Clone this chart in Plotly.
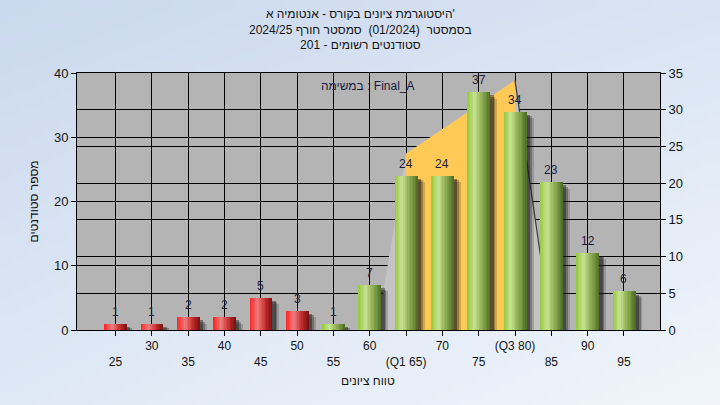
import base64, struct, zlib
import plotly.graph_objects as go

# ---------------- data ----------------
grades = [25, 30, 35, 40, 45, 50, 55, 60, 65, 70, 75, 80, 85, 90, 95]
counts = [1, 1, 2, 2, 5, 3, 1, 7, 24, 24, 37, 34, 23, 12, 6]
tick_labels = ["25", "30", "35", "40", "45", "50", "55", "60", "(Q1 65)", "70",
               "75", "(Q3 80)", "85", "90", "95"]
failing_below = 55          # bars under this grade are red
area_x = [61, 65, 80, 85]   # quartile area outline (right axis units)
area_y = [0, 24, 34, 0]
q1, q3 = 65, 80
q1_val, q3_val = 24, 34

title_lines = ["היסטוגרמת ציונים בקורס - אנטומיה א'",
               "בסמסטר  (01/2024)  סמסטר חורף 2024/25",
               "סטודנטים רשומים - 201"]
task_label = "במשימה : Final_A"
x_title = "טווח ציונים"
y_title = "מספר סטודנטים"

FONT = "Arial, Liberation Sans, sans-serif"
W, H = 720, 405
ML, MR, MT, MB = 77, 60, 73, 75
PW, PH = W - ML - MR, H - MT - MB

# ---------------- helpers ----------------
def hex2rgb(h):
    h = h.lstrip('#')
    return tuple(int(h[i:i + 2], 16) for i in (0, 2, 4))

def interp(stops, t):
    for (t0, c0), (t1, c1) in zip(stops, stops[1:]):
        if t0 <= t <= t1:
            a, b = hex2rgb(c0), hex2rgb(c1)
            f = (t - t0) / (t1 - t0) if t1 > t0 else 0
            return 'rgb(%d,%d,%d)' % tuple(round(a[i] + (b[i] - a[i]) * f) for i in range(3))
    return stops[-1][1]

green = [(0, '#96c642'), (0.12, '#a8d458'), (0.32, '#c8e298'), (0.52, '#a2c064'),
         (0.78, '#779842'), (1, '#4c6a22')]
red = [(0, '#ff2222'), (0.14, '#f84444'), (0.36, '#ea8080'), (0.56, '#d84848'),
       (0.8, '#aa2020'), (1, '#781010')]

def make_png(w, h, fn):
    rows = []
    for j in range(h):
        row = bytearray([0])
        for i in range(w):
            row += bytes(fn(i / (w - 1), j / (h - 1)))
        rows.append(bytes(row))
    raw = b''.join(rows)
    def chunk(t, d):
        return struct.pack('>I', len(d)) + t + d + struct.pack('>I', zlib.crc32(t + d) & 0xffffffff)
    return (b'\x89PNG\r\n\x1a\n' + chunk(b'IHDR', struct.pack('>IIBBBBB', w, h, 8, 2, 0, 0, 0))
            + chunk(b'IDAT', zlib.compress(raw)) + chunk(b'IEND', b''))

tl, tr, bl, br = hex2rgb('#cbd9ee'), hex2rgb('#d9e4f3'), hex2rgb('#dfe8f5'), hex2rgb('#f1f5fb')
def bg(u, v):
    return tuple(round((tl[k] * (1 - u) + tr[k] * u) * (1 - v) + (bl[k] * (1 - u) + br[k] * u) * v)
                 for k in range(3))
bg_uri = 'data:image/png;base64,' + base64.b64encode(make_png(90, 51, bg)).decode()

# ---------------- figure ----------------
fig = go.Figure()

# quartile area on right axis (main y)
fig.add_trace(go.Scatter(x=area_x, y=area_y, fill='toself', fillcolor='#c3c3c3',
                         mode='lines', line=dict(width=0), yaxis='y', hoverinfo='skip'))
fig.add_trace(go.Scatter(x=[q1, q1, q3, q3], y=[0, q1_val, q3_val, 0], fill='toself',
                         fillcolor='#fec954', mode='lines', line=dict(width=0),
                         yaxis='y', hoverinfo='skip'))
fig.add_trace(go.Scatter(x=area_x[2:], y=area_y[2:], mode='lines',
                         line=dict(color='#3a3a3a', width=1.2), yaxis='y', hoverinfo='skip'))

BW = 3.1
# shadows
for dx, dy, col in [(1.0, 1.0, 'rgba(30,30,30,0.2)'), (0.75, 0.7, 'rgba(30,30,30,0.32)'),
                    (0.5, 0.5, 'rgba(25,25,25,0.45)')]:
    fig.add_trace(go.Bar(x=grades, y=[max(c - dy, 0) for c in counts], width=BW,
                         offset=-BW / 2 + dx, marker=dict(color=col, line=dict(width=0)),
                         yaxis='y2', hoverinfo='skip'))

# gradient strips
N = 16
sw = BW / N
for i in range(N):
    t = (i + 0.5) / N
    cols = [interp(red if g < failing_below else green, t) for g in grades]
    fig.add_trace(go.Bar(x=grades, y=counts, width=sw * 1.25, offset=-BW / 2 + i * sw,
                         marker=dict(color=cols, line=dict(width=0)),
                         yaxis='y2', hoverinfo='skip'))

ann = []
# value labels above bars
for g, c in zip(grades, counts):
    ann.append(dict(text=str(c), x=g, y=c, xref='x', yref='y2', showarrow=False,
                    xanchor='center', yanchor='bottom', yshift=3,
                    font=dict(family=FONT, size=12, color='#1c1c3c')))
ann.append(dict(text='<br>'.join(title_lines), xref='paper', yref='paper', x=(360 - ML) / PW,
                y=(MT + PH - 29.5) / PH, showarrow=False, align='center',
                font=dict(family=FONT, size=12, color='#141414'),
                xanchor='center', yanchor='middle', borderpad=0))
ann.append(dict(text=task_label, xref='paper', yref='paper', x=(368 - ML) / PW,
                y=(MT + PH - 86) / PH, showarrow=False,
                font=dict(family=FONT, size=12, color='#1a1a40'), xanchor='center', yanchor='middle'))
ann.append(dict(text=x_title, xref='paper', yref='paper', x=(368 - ML) / PW,
                y=(MT + PH - 381) / PH, showarrow=False,
                font=dict(family=FONT, size=12, color='#141414'), xanchor='center', yanchor='middle'))
ann.append(dict(text=y_title, xref='paper', yref='paper', x=(33 - ML) / PW, y=0.5,
                textangle=-90, showarrow=False,
                font=dict(family=FONT, size=12, color='#141414'), xanchor='center', yanchor='middle'))

ticktext = [t if i % 2 == 1 else ' <br>' + t for i, t in enumerate(tick_labels)]

fig.update_layout(
    width=W, height=H, margin=dict(l=ML, r=MR, t=MT, b=MB),
    paper_bgcolor='#dfe8f4', plot_bgcolor='rgba(0,0,0,0)',
    showlegend=False, barmode='overlay', bargap=0, hovermode=False,
    font=dict(family=FONT, size=12, color='#141414'),
    annotations=ann,
    images=[dict(source=bg_uri, xref='paper', yref='paper', x=-ML / PW, y=1 + MT / PH,
                 sizex=W / PW, sizey=H / PH, sizing='stretch', layer='below',
                 xanchor='left', yanchor='top')],
    shapes=[dict(type='rect', xref='paper', yref='paper', x0=0, x1=1, y0=0, y1=1,
                 fillcolor='#b4b4b4', line=dict(width=0), layer='below')],
    xaxis=dict(range=[19.7, 99.96], tickmode='array', tickvals=grades, ticktext=ticktext,
               ticks='outside', ticklen=5, tickcolor='black', showgrid=True,
               gridcolor='black', gridwidth=1, showline=True, linecolor='black',
               linewidth=1, mirror=True, zeroline=False,
               tickfont=dict(family=FONT, size=12, color='#141414')),
    yaxis=dict(range=[0, 35], dtick=5, side='right', ticks='outside', ticklen=5,
               tickcolor='black', showgrid=True, gridcolor='black', gridwidth=1,
               showline=True, linecolor='black', zeroline=False,
               tickfont=dict(family=FONT, size=13, color='#141414')),
    yaxis2=dict(range=[0, 40], dtick=10, side='left', overlaying='y', ticks='outside',
                ticklen=5, tickcolor='black', showgrid=True, gridcolor='black',
                gridwidth=1, showline=True, linecolor='black', zeroline=False,
                tickfont=dict(family=FONT, size=13, color='#141414')),
)

fig.write_html("out.html", config={'displayModeBar': False, 'staticPlot': True},
               post_script="document.body.style.margin='0px';document.body.style.overflow='hidden';")
